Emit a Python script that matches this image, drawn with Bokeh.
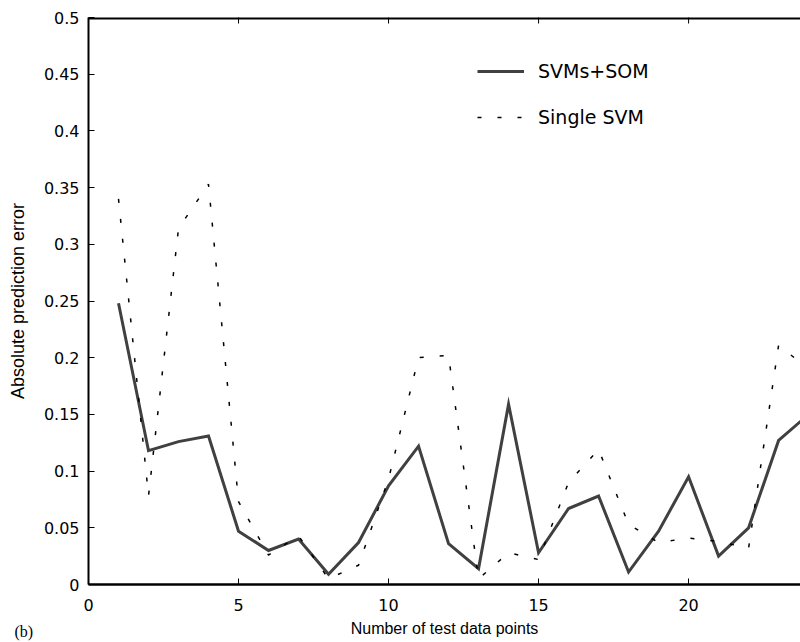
import math
from bokeh.plotting import figure
from bokeh.models import (FixedTicker, Range1d, Legend, LegendItem,
                          Label, CustomJSTickFormatter)
from bokeh.embed import file_html
from bokeh.resources import INLINE

# ---- data ----
x_points = list(range(1, 25))
svms_som = [0.248, 0.118, 0.126, 0.131, 0.047, 0.030, 0.040, 0.009, 0.037, 0.087,
            0.122, 0.036, 0.014, 0.159, 0.028, 0.067, 0.078, 0.011, 0.047, 0.095,
            0.025, 0.050, 0.127, 0.150]
single_svm = [0.340, 0.078, 0.314, 0.353, 0.073, 0.026, 0.043, 0.005, 0.017, 0.093,
              0.200, 0.202, 0.005, 0.028, 0.022, 0.090, 0.119, 0.053, 0.037, 0.041,
              0.038, 0.032, 0.211, 0.190]
x_ticks = [0, 5, 10, 15, 20]
y_ticks = [0, 0.05, 0.1, 0.15, 0.2, 0.25, 0.3, 0.35, 0.4, 0.45, 0.5]
series_labels = ["SVMs+SOM", "Single SVM"]
x_title = "Number of test data points"
y_title = "Absolute prediction error"
panel_tag = "(b)"

TICK_FONT = "DejaVu Sans"
LABEL_FONT = "Liberation Sans"

X_END = 23.73
Y_END = 0.5

p = figure(width=800, height=642, output_backend="svg", toolbar_location=None,
           x_range=Range1d(0, X_END), y_range=Range1d(0, Y_END),
           min_border_left=88, min_border_right=0, min_border_top=16,
           min_border_bottom=58)
p.grid.visible = False
p.outline_line_color = None
p.background_fill_color = "white"
p.border_fill_color = "white"

# bottom axis
xa = p.xaxis[0]
xa.ticker = FixedTicker(ticks=x_ticks)
xa.axis_line_width = 2.5
xa.axis_line_color = "black"
xa.major_tick_in = 6
xa.major_tick_out = 0
xa.minor_tick_in = 0
xa.minor_tick_out = 0
xa.major_tick_line_color = "black"
xa.major_label_text_font = TICK_FONT
xa.major_label_text_font_size = "16px"
xa.major_label_text_color = "black"
xa.major_label_standoff = 14
xa.axis_label = x_title
xa.axis_label_text_font = LABEL_FONT
xa.axis_label_text_font_size = "16px"
xa.axis_label_text_font_style = "normal"
xa.axis_label_text_color = "black"
xa.axis_label_standoff = 6

# left axis
ya = p.yaxis[0]
ya.ticker = FixedTicker(ticks=y_ticks)
ya.formatter = CustomJSTickFormatter(code="return String(Math.round(tick*100)/100);")
ya.axis_line_width = 2
ya.axis_line_color = "black"
ya.major_tick_in = 6
ya.major_tick_out = 0
ya.minor_tick_in = 0
ya.minor_tick_out = 0
ya.major_tick_line_color = "black"
ya.major_label_text_font = TICK_FONT
ya.major_label_text_font_size = "16px"
ya.major_label_text_color = "black"
ya.major_label_standoff = 9
ya.axis_label = y_title
ya.axis_label_text_font = LABEL_FONT
ya.axis_label_text_font_size = "18px"
ya.axis_label_text_font_style = "normal"
ya.axis_label_text_color = "black"
ya.axis_label_standoff = 13

# top frame edge with inward ticks (half of each mark is clipped by the frame)
p.line([0, X_END], [Y_END, Y_END], line_color="black", line_width=4)
p.scatter(x_ticks, [Y_END] * len(x_ticks), marker="dash", angle=math.pi / 2,
          size=12, line_color="black", line_width=1)

r1 = p.line(x_points, svms_som, line_color="#404040", line_width=3, line_join="miter")
r2 = p.line(x_points, single_svm, line_color="black", line_width=1.5, line_dash="4 16")

legend = Legend(items=[LegendItem(label=series_labels[0], renderers=[r1]),
                       LegendItem(label=series_labels[1], renderers=[r2])],
                location=(389, 456), padding=0, margin=0, border_line_color=None,
                background_fill_alpha=0, glyph_width=47, glyph_height=20,
                label_height=20, label_standoff=14, spacing=24,
                label_text_font=TICK_FONT, label_text_font_size="19px",
                label_text_color="black")
p.add_layout(legend)

# panel tag, held in the (otherwise empty) top side panel so it is not clipped
tag = Label(x=-74, y=-614, x_units="screen", y_units="screen", text=panel_tag,
            text_font="Liberation Serif", text_font_size="16px",
            text_baseline="middle", text_align="left", text_color="black")
p.add_layout(tag, "above")

open("out.html", "w").write(file_html(p, INLINE))
